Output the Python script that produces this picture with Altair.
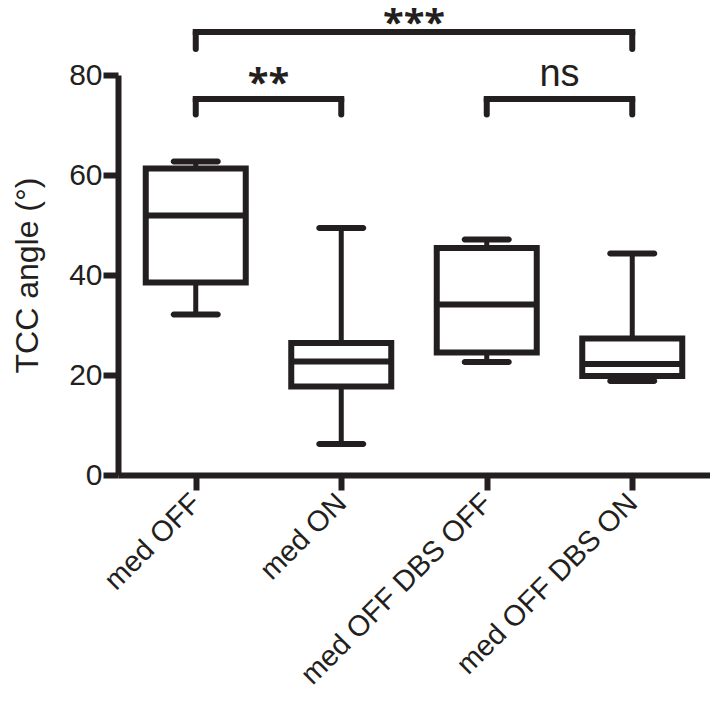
import json
import altair as alt
import pandas as pd

# ---- data ----
groups = ["med OFF", "med ON", "med OFF DBS OFF", "med OFF DBS ON"]
whisker_low = [32.1, 6.2, 22.6, 18.8]
q1 = [38.5, 17.7, 24.5, 19.8]
median = [51.9, 22.7, 34.1, 22.2]
q3 = [61.3, 26.4, 45.4, 27.3]
whisker_high = [62.7, 49.4, 47.1, 44.3]

# significance brackets (group indices) and their labels
bracket_left = [0, 0, 2]
bracket_right = [3, 1, 3]
bracket_level = [88.6, 75.2, 75.2]
bracket_drop = [85.2, 72.1, 72.1]
bracket_label = ["***", "**", "ns"]
label_y = [87.8, 75.9, 77.8]

INK = "#231f20"
FONT = "Liberation Sans"

boxes = pd.DataFrame({
    "pos": list(range(len(groups))),
    "group": groups,
    "whisker_low": whisker_low,
    "q1": q1,
    "median": median,
    "q3": q3,
    "whisker_high": whisker_high,
})

brackets = pd.DataFrame({
    "left": bracket_left,
    "right": bracket_right,
    "level": bracket_level,
    "drop": bracket_drop,
    "label": bracket_label,
    "label_y": label_y,
})
brackets["mid"] = (brackets["left"] + brackets["right"]) / 2

label_expr = json.dumps(groups) + "[datum.value]"

x_scale = alt.Scale(domain=[-0.5, 3.5], nice=False, zero=False)
y_scale = alt.Scale(domain=[0, 80], nice=False, zero=True)

x_axis = alt.Axis(
    values=[0, 1, 2, 3],
    labelExpr=label_expr,
    title=None,
    labelAngle=-45,
    labelAlign="right",
    labelBaseline="middle",
    labelPadding=8,
    labelFlush=False,
    labelOverlap=False,
    labelLimit=400,
    labelFontSize=29,
    grid=False,
)
y_axis = alt.Axis(
    values=[0, 20, 40, 60, 80],
    title="TCC angle (°)",
    titleFontSize=32,
    titleFontWeight="normal",
    titlePadding=24,
    labelPadding=1,
    labelFontSize=30,
    grid=False,
)


def X(field):
    return alt.X(field, type="quantitative", scale=x_scale, axis=x_axis)


def Y(field):
    return alt.Y(field, type="quantitative", scale=y_scale, axis=y_axis)


base_box = alt.Chart(boxes)

whisk_low = base_box.mark_rule(color=INK, strokeWidth=5, opacity=1).encode(
    x=X("pos"), y=Y("whisker_low"), y2="q1"
)
whisk_high = base_box.mark_rule(color=INK, strokeWidth=5, opacity=1).encode(
    x=X("pos"), y=Y("q3"), y2="whisker_high"
)
box = base_box.mark_bar(size=100, fill="white", stroke=INK, strokeWidth=6, opacity=1).encode(
    x=X("pos"), y=Y("q1"), y2="q3"
)
med = base_box.mark_tick(orient="horizontal", size=100, thickness=6, color=INK, opacity=1).encode(
    x=X("pos"), y=Y("median")
)
caps = base_box.transform_fold(["whisker_low", "whisker_high"], as_=["stat", "val"]).mark_tick(
    orient="horizontal", size=50, thickness=6, color=INK, cornerRadius=3, opacity=1
).encode(x=X("pos"), y=Y("val"))

base_br = alt.Chart(brackets)
br_h = base_br.mark_rule(color=INK, strokeWidth=6, strokeCap="square", opacity=1).encode(
    x=X("left"), x2="right", y=Y("level")
)
br_v = base_br.transform_fold(["left", "right"], as_=["side", "xpos"]).mark_rule(
    color=INK, strokeWidth=6, strokeCap="round", opacity=1
).encode(x=X("xpos"), y=Y("level"), y2="drop")

stars = base_br.transform_filter("datum.label != 'ns'").mark_text(
    font="Open Sans", fontSize=38, fontWeight="bold", color=INK,
    baseline="alphabetic", align="center"
).encode(x=X("mid"), y=Y("label_y"), text="label")
ns = base_br.transform_filter("datum.label == 'ns'").mark_text(
    font=FONT, fontSize=38, color=INK, baseline="alphabetic", align="center"
).encode(x=X("mid"), y=Y("label_y"), text="label")

chart = alt.layer(
    whisk_low, whisk_high, box, med, caps, br_h, br_v, stars, ns
).properties(
    width=592,
    height=400,
    autosize=alt.AutoSizeParams(type="none"),
    padding={"left": 110, "top": 67, "right": 0, "bottom": 218},
).configure_view(stroke=None).configure_axis(
    domainColor=INK,
    domainWidth=6,
    tickColor=INK,
    tickWidth=6,
    tickSize=15,
    labelColor=INK,
    titleColor=INK,
    labelFont=FONT,
    titleFont=FONT,
)

chart.save("out.html", embed_options={"renderer": "svg", "actions": False})
